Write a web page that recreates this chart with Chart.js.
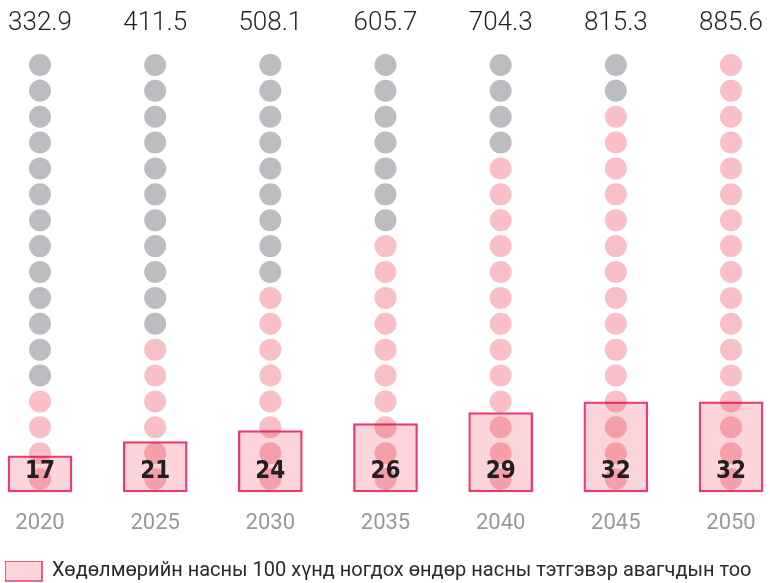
<!DOCTYPE html>
<html>
<head>
<meta charset="utf-8">
<script src="https://cdn.jsdelivr.net/npm/chart.js@4.4.1/dist/chart.umd.min.js"></script>
<style>
    html, body { margin: 0; padding: 0; background: #fff; }
    #wrap { width: 770px; height: 583px; }
</style>
</head>
<body>
<div id="wrap"><canvas id="chart" width="770" height="583"></canvas></div>
<script>
// Data
const years = ['2020', '2025', '2030', '2035', '2040', '2045', '2050'];
const topLabels = ['332.9', '411.5', '508.1', '605.7', '704.3', '815.3', '885.6'];
const ratio = [17, 21, 24, 26, 29, 32, 32];
const pinkDots = [4, 6, 8, 10, 13, 15, 17];
const dotsPerColumn = 17;
const legendText = 'Хөдөлмөрийн насны 100 хүнд ногдох өндөр насны тэтгэвэр авагчдын тоо';

const condensed = '"DejaVu Sans Condensed", "DejaVu Sans", sans-serif';
const light = 'Roboto, "Noto Sans", sans-serif';

// Build dot columns: pink from the bottom, grey above
const greyPoints = [];
const pinkPoints = [];
years.forEach((yr, i) => {
    for (let k = 1; k <= dotsPerColumn; k++) {
        (k <= pinkDots[i] ? pinkPoints : greyPoints).push({ x: yr, y: k });
    }
});

// Bars are drawn with multiply so the dots show through darker
const multiplyBars = {
    id: 'multiplyBars',
    beforeDatasetDraw(chart, args) {
        if (args.meta.type === 'bar') {
            chart.ctx.save();
            chart.ctx.globalCompositeOperation = 'multiply';
        }
    },
    afterDatasetDraw(chart, args) {
        if (args.meta.type === 'bar') chart.ctx.restore();
    }
};

// Value labels inside bars
const barLabels = {
    id: 'barLabels',
    afterDatasetsDraw(chart) {
        const ctx = chart.ctx;
        const meta = chart.getDatasetMeta(0);
        const base = chart.scales.yBar.getPixelForValue(chart.scales.yBar.min);
        ctx.save();
        ctx.font = 'bold 24px ' + condensed;
        ctx.fillStyle = '#231f20';
        ctx.textAlign = 'center';
        ctx.textBaseline = 'middle';
        meta.data.forEach((bar, i) => {
            ctx.fillText(String(ratio[i]), bar.x, base - 20);
        });
        ctx.restore();
    }
};

// Push the legend down into the empty strip at the bottom
const legendNudge = {
    id: 'legendNudge',
    afterLayout(chart) {
        if (chart.legend) chart.legend.top += 8;
    }
};

const fixWidth = (w) => function(scale) { scale.width = w; };
const fixHeight = (h) => function(scale) { scale.height = h; };

new Chart(document.getElementById('chart'), {
    type: 'bar',
    data: {
        labels: years,
        datasets: [
            {
                type: 'bar',
                label: legendText,
                data: ratio,
                base: 7,
                yAxisID: 'yBar',
                backgroundColor: '#fcd5da',
                borderColor: '#ec3a76',
                borderWidth: 1.6,
                borderSkipped: false,
                barThickness: 64,
                clip: false
            },
            {
                type: 'scatter',
                label: 'pink',
                data: pinkPoints,
                yAxisID: 'yDots',
                backgroundColor: '#f8bfc7',
                borderWidth: 0,
                pointRadius: 11,
                pointHoverRadius: 11,
                clip: false
            },
            {
                type: 'scatter',
                label: 'grey',
                data: greyPoints,
                yAxisID: 'yDots',
                backgroundColor: '#bcbdc0',
                borderWidth: 0,
                pointRadius: 11,
                pointHoverRadius: 11,
                clip: false
            }
        ]
    },
    options: {
        responsive: false,
        animation: false,
        layout: { padding: { top: 0, bottom: 0, left: 5, right: 0 } },
        scales: {
            x: {
                type: 'category',
                labels: years,
                offset: false,
                grid: { display: false },
                border: { display: false },
                ticks: {
                    color: '#999999',
                    font: { family: light, size: 22 },
                    padding: 10,
                    autoSkip: false,
                    maxRotation: 0
                },
                afterFit: fixHeight(61)
            },
            xTop: {
                type: 'category',
                position: 'top',
                labels: topLabels,
                offset: false,
                grid: { display: false },
                border: { display: false },
                ticks: {
                    color: '#231f20',
                    font: { family: light, size: 26, weight: 300 },
                    padding: 5,
                    autoSkip: false,
                    maxRotation: 0
                },
                afterFit: fixHeight(52)
            },
            yDots: {
                position: 'left',
                min: 0.5,
                max: 17.5,
                grid: { display: false },
                border: { display: false },
                ticks: { display: false },
                afterFit: fixWidth(35)
            },
            yBar: {
                position: 'right',
                min: 7,
                max: 129,
                grid: { display: false },
                border: { display: false },
                ticks: { display: false },
                afterFit: fixWidth(39)
            }
        },
        plugins: {
            tooltip: { enabled: false },
            legend: {
                position: 'bottom',
                align: 'start',
                labels: {
                    filter: (item) => item.datasetIndex === 0,
                    boxWidth: 37,
                    boxHeight: 20,
                    padding: 0,
                    color: '#2b2b2b',
                    font: { family: light, size: 20 }
                }
            }
        }
    },
    plugins: [multiplyBars, barLabels, legendNudge]
});
</script>
</body>
</html>
